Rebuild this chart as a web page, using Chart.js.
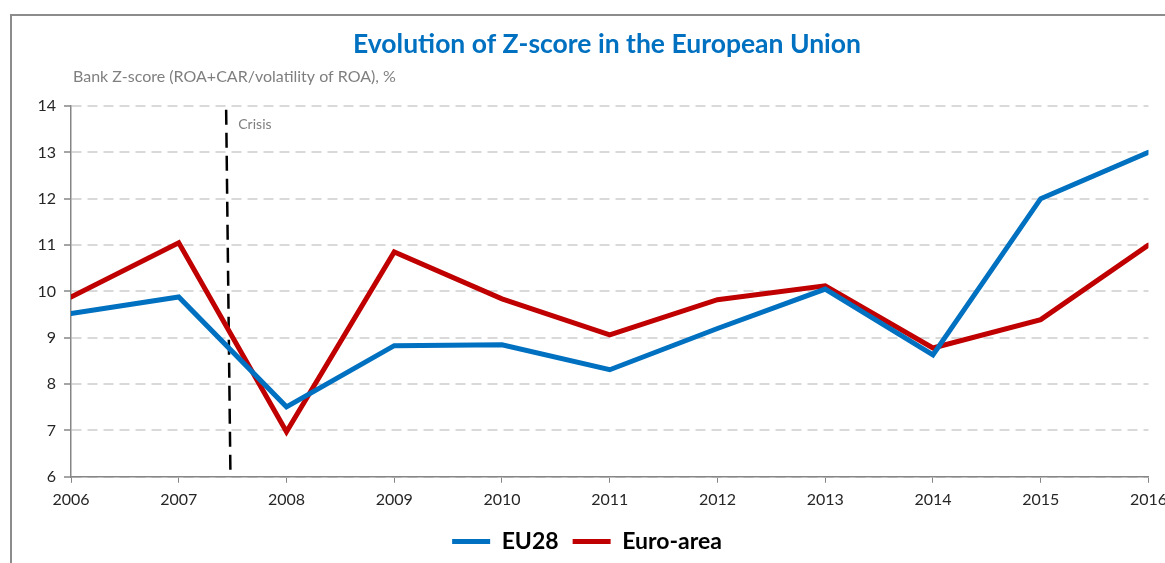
<!DOCTYPE html>
<html>
<head>
<meta charset="utf-8">
<script src="https://cdn.jsdelivr.net/npm/chart.js@4.4.0/dist/chart.umd.min.js"></script>
<style>
  html, body { margin: 0; padding: 0; background: #fff; overflow: hidden; }
  #frame { position: absolute; left: 10px; top: 14px; width: 1200px; height: 600px; border: 2px solid #8c8c8c; }
  #wrap { position: absolute; left: 0; top: 0; width: 1174px; height: 563px; }
</style>
</head>
<body>
<div id="frame"></div>
<div id="wrap"><canvas id="grafico_zscore"></canvas></div>
<script>
var anos = [2006, 2007, 2008, 2009, 2010, 2011, 2012, 2013, 2014, 2015, 2016]
var valoresEU28 = [9.52, 9.88, 7.51, 8.83, 8.85, 8.31, 9.2, 10.05, 8.63, 12.0, 13.0]
var valoresEuroArea = [9.88, 11.05, 6.97, 10.85, 9.84, 9.06, 9.82, 10.12, 8.78, 9.39, 11.0]
var ticksY = [6, 7, 8, 9, 10, 11, 12, 13, 14]
var anoCrise = 2007.46

var fonte = 'Lato'

// titulo, subtitulo e linha da crise
var pluginExtras = {
    id: 'extras',
    beforeDatasetsDraw(chart) {
        var ctx = chart.ctx
        var x = chart.scales.x
        var y = chart.scales.y
        ctx.save()
        ctx.strokeStyle = '#000'
        ctx.lineWidth = 2.5
        ctx.setLineDash([15, 8])
        ctx.beginPath()
        ctx.moveTo(x.getPixelForValue(anoCrise - 0.02), y.getPixelForValue(13.92))
        ctx.lineTo(x.getPixelForValue(anoCrise + 0.02), y.getPixelForValue(6))
        ctx.stroke()
        ctx.setLineDash([])
        ctx.fillStyle = '#7f7f7f'
        ctx.font = '14px ' + fonte
        ctx.textBaseline = 'middle'
        ctx.fillText('Crisis', x.getPixelForValue(anoCrise) + 10, 124)
        ctx.restore()
    },
    afterDraw(chart) {
        var ctx = chart.ctx
        ctx.save()
        ctx.fillStyle = '#0070C0'
        ctx.font = 'bold 26.5px ' + fonte
        ctx.textAlign = 'center'
        ctx.textBaseline = 'middle'
        ctx.fillText('Evolution of Z-score in the European Union', 607, 44)
        ctx.fillStyle = '#7f7f7f'
        ctx.font = '16px ' + fonte
        ctx.textAlign = 'left'
        ctx.fillText('Bank Z-score (ROA+CAR/volatility of ROA), %', 73, 77)
        ctx.restore()
    }
}

var graficoZscore = new Chart(document.getElementById('grafico_zscore').getContext('2d'), {
    type: 'line',
    data: {
        datasets: [{
            label: 'EU28',
            borderColor: '#0070C0',
            backgroundColor: '#0070C0',
            borderWidth: 5,
            borderCapStyle: 'round',
            pointRadius: 0,
            tension: 0,
            data: anos.map((a, i) => ({ x: a, y: valoresEU28[i] }))
        }, {
            label: 'Euro-area',
            borderColor: '#C00000',
            backgroundColor: '#C00000',
            borderWidth: 5,
            borderCapStyle: 'round',
            pointRadius: 0,
            tension: 0,
            data: anos.map((a, i) => ({ x: a, y: valoresEuroArea[i] }))
        }]
    },
    options: {
        responsive: true,
        maintainAspectRatio: false,
        animation: false,
        layout: {
            padding: { top: 106, left: 0, right: 0, bottom: 0 }
        },
        scales: {
            x: {
                type: 'linear',
                min: 2006,
                max: 2016,
                afterBuildTicks: (scale) => { scale.ticks = anos.map(a => ({ value: a })) },
                ticks: {
                    callback: (v) => String(v),
                    color: '#262626',
                    font: { size: 16, family: fonte },
                    padding: 7,
                    maxRotation: 0
                },
                grid: { drawOnChartArea: false, tickLength: 6, color: '#868686' },
                border: { color: '#868686', width: 1.5 }
            },
            y: {
                min: 6,
                max: 14,
                afterBuildTicks: (scale) => { scale.ticks = ticksY.map(v => ({ value: v })) },
                afterFit: (scale) => { scale.width = 71 },
                ticks: {
                    color: '#262626',
                    font: { size: 16, family: fonte },
                    padding: 8
                },
                grid: { color: '#d9d9d9', lineWidth: 2, tickLength: 7, tickColor: '#868686', tickWidth: 1.5 },
                border: { color: '#868686', width: 1.5, dash: [10, 6] }
            }
        },
        plugins: {
            legend: {
                position: 'bottom',
                labels: {
                    usePointStyle: true,
                    pointStyle: 'line',
                    pointStyleWidth: 38,
                    color: '#000',
                    font: { size: 23, weight: 'bold', family: fonte },
                    padding: 14
                }
            },
            tooltip: { enabled: false }
        }
    },
    plugins: [pluginExtras]
})
</script>
</body>
</html>
